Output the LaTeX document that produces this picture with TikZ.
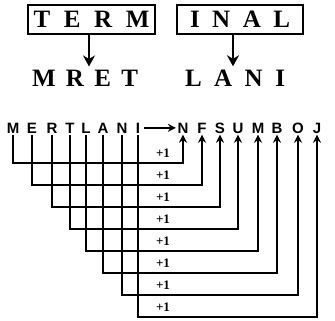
\documentclass[tikz,border=0pt]{standalone}
\usepackage{fontspec}
\setmainfont{Liberation Serif}
\setsansfont{Liberation Sans}
\usetikzlibrary{arrows.meta}

\begin{document}
\begin{tikzpicture}[
            x=1pt, y=-1pt,
            box/.style={draw, line width=2.2pt, minimum height=29pt, inner sep=0pt,
              font=\fontsize{25}{25}\selectfont\bfseries},
            word/.style={inner sep=0pt, anchor=base, font=\fontsize{25}{25}\selectfont\bfseries},
            letter/.style={inner sep=1.5pt, anchor=base, text depth=0pt,
              font=\sffamily\bfseries\fontsize{15}{15}\selectfont},
            plus/.style={inner sep=0pt, font=\bfseries\fontsize{13}{13}\selectfont},
            link/.style={line width=2.2pt, -{Stealth[length=8pt,width=8pt]}},
            bigarrow/.style={line width=2.6pt, -{Stealth[length=11pt,width=12pt]}}
        ]
            \useasboundingbox (0,0) rectangle (335,321);

            % Words
            \node (term) [box, minimum width=127pt] at (91.5,19.5) {\makebox[116pt][s]{T\hfill E\hfill R\hfill M}};
            \node (inal) [box, minimum width=126pt] at (240,19.5) {\makebox[100pt][s]{I\hfill N\hfill A\hfill L}};
            \node (mret) [word] at (85,87) {\makebox[106pt][s]{M\hfill R\hfill E\hfill T}};
            \node (lani) [word] at (235,87) {\makebox[100pt][s]{L\hfill A\hfill N\hfill I}};

            \draw [bigarrow] (89,34) coordinate (ta) -- ([yshift=4pt]ta |- mret.north);
            \draw [bigarrow] (233,34) coordinate (ia) -- ([yshift=4pt]ia |- lani.north);

            % Letters
            \foreach \l/\x [count=\i] in {M/13,E/32,R/52,T/70,L/86,A/103,N/122,I/138}
                \node (s\i) [letter] at (\x,133) {\l};
            \foreach \l/\x [count=\i] in {N/183,F/202,S/220,U/238,M/258,B/277,O/298,J/317}
                \node (t\i) [letter] at (\x,133) {\l};

            \draw [link, shorten <=2pt] (s8.east) -- (t1.west);

            % Arrows
            \foreach \y [count=\i] in {163,185,207,229,251,273,295,317} {
                \node (p\i) [plus] at (163,\y-10) {+1};
                \draw [link] (s\i.south) |- (t\i.south |- 0,\y) -- (t\i.south);
            }
        \end{tikzpicture}
\end{document}
